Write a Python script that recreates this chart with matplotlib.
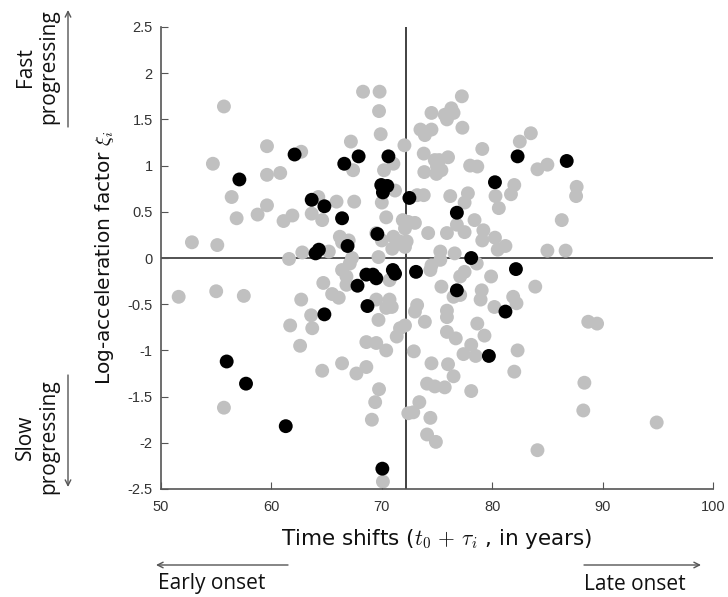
import matplotlib
matplotlib.use("Agg")
import matplotlib.pyplot as plt

# ---- data ----
grey_x = [68.3, 69.8, 69.75, 55.7, 69.9, 74.5, 73.5, 73.9, 74.5, 72.05, 67.2, 59.6, 62.7, 54.7,
          73.8, 74.8, 59.6, 60.8, 67.4, 70.2, 71.05, 73.85, 74.95, 56.4, 59.6, 58.75, 56.85, 61.1,
          61.9, 64.25, 63.65, 64.6, 65.9, 67.5, 71.2, 70.0, 70.4, 71.9, 72.4, 73.0, 74.2, 73.8,
          66.2, 66.4, 67.0, 69.5, 70.0, 71.05, 71.6, 70.95, 72.25, 52.8, 55.1, 62.8, 65.2, 61.6,
          67.3, 69.7,
          77.25, 75.7, 76.3, 76.5, 75.9, 77.3, 83.5, 82.5, 79.1, 75.2, 76.0, 75.0, 78.0, 78.65,
          75.4, 84.1, 85.0, 82.0, 81.7, 87.65, 87.6, 73.2, 76.2, 77.8, 77.5, 80.3, 80.6, 86.3,
          72.1, 75.9, 76.8, 77.5, 78.4, 79.2, 79.1, 80.25, 81.2, 80.5, 75.3, 76.6, 85.0, 86.65, 72.1,
          66.4, 67.1, 66.8, 64.7, 65.5, 66.1, 66.8, 70.7, 69.5, 70.7, 70.9, 70.4, 69.7, 71.65,
          71.35, 72.1, 73.2, 73.0, 73.9, 74.4, 51.6, 55.0, 57.5, 62.7, 63.6, 63.7, 61.7, 62.6,
          68.6, 69.5, 70.4, 72.9, 66.4, 64.6, 67.7, 68.6, 69.75, 69.4, 69.1, 74.5, 74.1, 74.8,
          73.4, 72.4, 72.85, 74.4, 74.1, 74.9, 55.7, 70.1,
          74.5, 75.3, 77.5, 77.1, 78.6, 79.9, 83.9, 75.4, 76.5, 77.1, 79.05, 78.95, 80.2, 81.9,
          82.2, 75.9, 75.9, 75.9, 76.7, 78.65, 79.3, 78.1, 77.4, 78.5, 76.0, 76.5, 82.3, 82.0,
          88.7, 89.5, 88.35, 88.25, 94.9, 84.1, 75.7, 78.1]
grey_y = [1.80, 1.80, 1.59, 1.64, 1.34, 1.57, 1.39, 1.33, 1.39, 1.22, 1.26, 1.21, 1.15, 1.02,
          1.13, 1.06, 0.90, 0.92, 0.95, 0.95, 1.02, 0.93, 0.91, 0.66, 0.57, 0.47, 0.43, 0.40,
          0.46, 0.66, 0.48, 0.41, 0.61, 0.61, 0.73, 0.60, 0.44, 0.41, 0.39, 0.38, 0.27, 0.68,
          0.23, 0.17, 0.19, 0.27, 0.19, 0.23, 0.18, 0.10, 0.18, 0.17, 0.14, 0.06, 0.07, -0.01,
          0.00, 0.01,
          1.75, 1.55, 1.62, 1.57, 1.50, 1.41, 1.35, 1.26, 1.18, 1.06, 1.09, 0.99, 1.00, 0.99,
          0.95, 0.96, 1.01, 0.79, 0.69, 0.77, 0.67, 0.68, 0.67, 0.70, 0.60, 0.67, 0.54, 0.41,
          0.32, 0.27, 0.36, 0.28, 0.41, 0.30, 0.19, 0.22, 0.13, 0.09, 0.07, 0.05, 0.08, 0.08, 0.12,
          -0.13, -0.06, -0.20, -0.27, -0.39, -0.43, -0.29, -0.24, -0.45, -0.45, -0.53, -0.54, -0.67, -0.76,
          -0.85, -0.73, -0.51, -0.58, -0.69, -0.13, -0.42, -0.36, -0.41, -0.45, -0.62, -0.76, -0.73, -0.95,
          -0.91, -0.92, -1.00, -1.01, -1.14, -1.22, -1.25, -1.18, -1.42, -1.56, -1.75, -1.14, -1.36, -1.39,
          -1.56, -1.68, -1.67, -1.73, -1.91, -1.99, -1.62, -2.42,
          -0.08, -0.02, -0.15, -0.20, -0.06, -0.20, -0.31, -0.31, -0.42, -0.40, -0.35, -0.45, -0.53, -0.42,
          -0.49, -0.57, -0.64, -0.80, -0.87, -0.71, -0.84, -0.94, -1.04, -1.06, -1.15, -1.28, -1.00, -1.23,
          -0.69, -0.71, -1.35, -1.65, -1.78, -2.08, -1.40, -1.44]

black_x = [62.1, 57.1, 66.6, 67.9, 70.6, 69.95, 70.5, 70.1, 72.5, 63.65, 64.8, 66.4, 69.6, 66.9,
           64.3, 64.0, 82.3, 86.75, 80.25, 76.8, 78.1, 68.6, 69.2, 69.5, 67.8, 71.0, 71.2, 73.1,
           68.7, 64.8, 55.95, 57.7, 61.3, 70.05, 76.8, 82.15, 81.2, 79.7]
black_y = [1.12, 0.85, 1.02, 1.10, 1.10, 0.79, 0.78, 0.71, 0.65, 0.63, 0.56, 0.43, 0.26, 0.13,
           0.09, 0.05, 1.10, 1.05, 0.82, 0.49, 0.00, -0.18, -0.18, -0.22, -0.30, -0.13, -0.17, -0.15,
           -0.52, -0.61, -1.12, -1.36, -1.82, -2.28, -0.35, -0.12, -0.58, -1.06]

x_ticks = [50, 60, 70, 80, 90, 100]
y_ticks = [-2.5, -2, -1.5, -1, -0.5, 0, 0.5, 1, 1.5, 2, 2.5]
y_tick_labels = ["-2.5", "-2", "-1.5", "-1", "-0.5", "0", "0.5", "1", "1.5", "2", "2.5"]
t0 = 72.2

# ---- figure ----
plt.rcParams['mathtext.fontset'] = 'cm'
W, H = 728, 597
fig = plt.figure(figsize=(W / 100, H / 100), dpi=100)
ax = fig.add_axes([161 / W, 1 - 489 / H, (713 - 161) / W, (489 - 27) / H])

ax.scatter(grey_x, grey_y, s=100, c='#c0c0c0', edgecolors='none', zorder=2)
ax.scatter(black_x, black_y, s=100, c='black', edgecolors='none', zorder=3)
ax.axvline(t0, color='#333333', lw=1.3, zorder=1)
ax.axhline(0, color='#444444', lw=1.3, zorder=1)

ax.set_xlim(50, 100)
ax.set_ylim(-2.5, 2.5)
ax.set_xticks(x_ticks)
ax.set_yticks(y_ticks)
ax.set_yticklabels(y_tick_labels)
for s in ['top', 'right']:
    ax.spines[s].set_visible(False)
for s in ['left', 'bottom']:
    ax.spines[s].set_color('#555555')
    ax.spines[s].set_linewidth(1.2)
ax.tick_params(direction='in', length=5, color='#555555', labelcolor='#333333', pad=6)
ax.tick_params(axis='x', pad=8)
for lab in ax.get_xticklabels() + ax.get_yticklabels():
    lab.set_family('Liberation Sans')
    lab.set_fontsize(10.5)

axis_font = dict(family='DejaVu Sans', fontsize=14.5, color='#111111')
ann_font = dict(family='Open Sans', fontsize=15, color='#111111')
ax.set_xlabel(r'Time shifts ($t_0\,+\,\tau_i$ , in years)', labelpad=9,
              family='DejaVu Sans', fontsize=15.5, color='#111111')
ax.set_ylabel(r'Log-acceleration factor $\xi_i$', labelpad=8, **axis_font)

def fx(px):
    return px / W

def fy(py):
    return 1 - py / H

arrow = dict(arrowstyle='->', color='#555555', lw=1.0, shrinkA=0, shrinkB=0)
fig.text(fx(37), fy(67), 'Fast\nprogressing', rotation=90, ha='center', va='center',
         linespacing=1.15, **ann_font)
fig.text(fx(37), fy(437), 'Slow\nprogressing', rotation=90, ha='center', va='center',
         linespacing=1.15, **ann_font)
ax.annotate('', xy=(fx(68), fy(10)), xytext=(fx(68), fy(127)), xycoords='figure fraction',
            textcoords='figure fraction', arrowprops=arrow, annotation_clip=False)
ax.annotate('', xy=(fx(68), fy(487)), xytext=(fx(68), fy(375)), xycoords='figure fraction',
            textcoords='figure fraction', arrowprops=arrow, annotation_clip=False)
ax.annotate('', xy=(fx(156), fy(565)), xytext=(fx(288), fy(565)), xycoords='figure fraction',
            textcoords='figure fraction', arrowprops=arrow, annotation_clip=False)
ax.annotate('', xy=(fx(701), fy(565)), xytext=(fx(584), fy(565)), xycoords='figure fraction',
            textcoords='figure fraction', arrowprops=arrow, annotation_clip=False)
fig.text(fx(158), fy(584), 'Early onset', ha='left', va='center', **ann_font)
fig.text(fx(584), fy(584), 'Late onset', ha='left', va='center', **ann_font)

fig.savefig('out.png', dpi=100)
